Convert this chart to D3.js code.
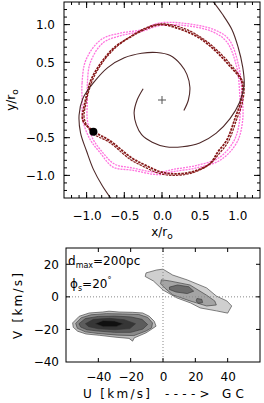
<!DOCTYPE html>
<html>
<head>
<meta charset="utf-8">
<script src="https://cdn.jsdelivr.net/npm/d3@7"></script>
<style>
  body { margin: 0; background: #fff; }
  text { font-family: "DejaVu Sans", sans-serif; font-size: 12px; fill: #000; }
</style>
</head>
<body>
<div id="chart"></div>
<script>
// ---- data ----
// top panel, x/r0 and y/r0
var xyTicks = [-1.0, -0.5, 0.0, 0.5, 1.0];

// two spiral arms
var arm1 = [[-0.25,0.15],[-0.33,0.00],[-0.37,-0.17],[-0.34,-0.33],[-0.27,-0.46],[-0.13,-0.56],
  [0.05,-0.62],[0.27,-0.62],[0.50,-0.57],[0.72,-0.44],[0.90,-0.25],[1.03,-0.03],[1.09,0.20],
  [1.07,0.44],[1.01,0.70],[0.93,0.93],[0.80,1.14],[0.66,1.33]];
var arm2 = [[0.29,-0.14],[0.35,0.00],[0.37,0.17],[0.33,0.34],[0.25,0.47],[0.11,0.59],
  [-0.07,0.63],[-0.27,0.62],[-0.50,0.56],[-0.72,0.43],[-0.90,0.24],[-1.05,0.02],[-1.10,-0.20],
  [-1.08,-0.44],[-1.00,-0.68],[-0.91,-0.92],[-0.79,-1.14],[-0.66,-1.33]];

// orbits (closed loops)
var redA = [[-1.05,-0.27],[-1.03,-0.07],[-0.99,0.10],[-0.94,0.27],[-0.81,0.49],[-0.64,0.69],
  [-0.41,0.84],[-0.20,0.95],[-0.01,1.00],[0.27,0.93],[0.50,0.82],[0.70,0.66],[0.90,0.45],
  [1.06,0.24],[1.05,0.00],[0.97,-0.24],[0.86,-0.53],[0.74,-0.69],[0.64,-0.84],[0.41,-0.95],
  [0.17,-0.98],[-0.03,-0.95],[-0.23,-0.86],[-0.40,-0.77],[-0.69,-0.54],[-0.90,-0.42]];
var redB = [[-1.03,-0.25],[-1.01,-0.05],[-0.97,0.12],[-0.91,0.29],[-0.78,0.51],[-0.61,0.70],
  [-0.39,0.86],[-0.18,0.97],[0.02,1.01],[0.29,0.95],[0.52,0.83],[0.72,0.67],[0.92,0.46],
  [1.08,0.22],[1.07,-0.02],[0.99,-0.26],[0.88,-0.55],[0.76,-0.71],[0.62,-0.86],[0.39,-0.97],
  [0.15,-1.00],[-0.05,-0.97],[-0.25,-0.88],[-0.42,-0.79],[-0.70,-0.56],[-0.92,-0.44]];
var pinkA = [[-1.06,0.00],[-1.06,0.23],[-1.01,0.53],[-0.81,0.80],[-0.54,0.89],[-0.28,0.93],
  [-0.04,1.02],[0.27,1.02],[0.70,0.93],[0.89,0.80],[1.02,0.44],[1.06,0.09],[1.07,-0.27],
  [0.99,-0.57],[0.77,-0.80],[0.46,-0.90],[0.15,-0.95],[-0.04,-0.99],[-0.40,-0.93],
  [-0.65,-0.89],[-0.82,-0.70],[-0.95,-0.53],[-1.05,-0.27]];
var pinkB = [[-0.99,0.00],[-0.99,0.22],[-0.95,0.50],[-0.78,0.76],[-0.52,0.86],[-0.27,0.91],
  [-0.02,0.99],[0.28,0.99],[0.66,0.91],[0.86,0.77],[0.99,0.44],[1.03,0.09],[1.03,-0.27],
  [0.95,-0.55],[0.75,-0.77],[0.45,-0.87],[0.15,-0.92],[-0.05,-0.96],[-0.40,-0.90],
  [-0.63,-0.85],[-0.80,-0.68],[-0.92,-0.51],[-0.99,-0.27]];

var centre = [0, 0];
var star = [-0.91, -0.42];

// bottom panel, U and V in km/s
var uTicks = [-40, -20, 0, 20, 40];
var vTicks = [-40, -20, 0, 20];

// filled contour levels, outermost first
var leftLevels = [
  [[-55.9,-16],[-51.8,-11.9],[-45.6,-9.9],[-37.3,-9.3],[-33.4,-8.8],[-27.2,-9.3],[-18.8,-9.5],
   [-12.6,-9.9],[-8.5,-11.9],[-5.4,-15],[-4.3,-18],[-7.4,-20.1],[-10.5,-22.1],[-17.8,-25.2],
   [-18.8,-27.2],[-21,-25.5],[-29.1,-24.8],[-39.4,-23.6],[-47.6,-22.8],[-52.8,-21.1],[-55.5,-18.7]],
  [[-54,-16.3],[-50.5,-12.8],[-44.5,-11],[-35,-10.3],[-25,-10.5],[-15,-10.8],[-9.5,-12.6],[-6.5,-16],
   [-7,-19],[-10.5,-21],[-18,-23.8],[-28,-23.5],[-40,-22.5],[-48,-21.5],[-53,-19.3]],
  [[-52,-16.5],[-48,-13.3],[-40,-12],[-30,-11.8],[-20,-12.3],[-13,-13.8],[-9.5,-17],[-12.5,-19.8],
   [-20,-21.8],[-30,-21.8],[-40,-21],[-47,-20.2],[-51,-18.5]],
  [[-48,-16.5],[-43,-13.8],[-33,-13.2],[-24,-14],[-17,-16.5],[-20.5,-19.5],[-30,-20.2],[-40,-19.6],[-46,-18.3]],
  [[-42,-16.5],[-37,-14.5],[-30,-14.8],[-24.5,-16.5],[-29,-18.3],[-37,-18.3]]
];
var rightLevels = [
  [[-10.5,14.7],[-4,16.5],[0,17],[6,13.4],[15,10.4],[27,5.5],[33,0.5],[39.5,-2.5],[42.5,-5.6],
   [40,-10],[33,-8.6],[23,-6.8],[17,-3.7],[8.7,-0.7],[0,4.2],[-6,9.8],[-11,12.5]],
  [[-1,10.5],[4,9.8],[16.7,7.3],[27,1],[32,-2.5],[33,-5],[27,-5.6],[16.7,-2.5],[6,1.2],[1,5.5],[-1.5,8]],
  [[4,6],[9,7.3],[16,6.2],[19,3.5],[15,2],[8,3],[4,4.5]],
  [[21,-1],[24,-1.5],[24.5,-3.5],[22,-4],[20.5,-2.5]]
];
var leftFills = ["#bdbdbd", "#8a8a8a", "#5c5c5c", "#363636", "#101010"];
var rightFills = ["#cfcfcf", "#a4a4a4", "#6c6c6c", "#707070"];

// ---- chart ----
var svg = d3.select("#chart").append("svg")
    .attr("width", 264)
    .attr("height", 403);

// top panel scales
var x = d3.scaleLinear().domain([-1.3, 1.3]).range([64, 260]);
var y = d3.scaleLinear().domain([-1.3, 1.3]).range([198, 2]);

svg.append("clipPath").attr("id", "clipTop")
    .append("rect").attr("x", 64).attr("y", 2).attr("width", 196).attr("height", 196);

var topGroup = svg.append("g").attr("clip-path", "url(#clipTop)");
var line = d3.line().x(d => x(d[0])).y(d => y(d[1]));

// orbits
[pinkB, pinkA].forEach(function(o) {
    topGroup.append("path")
        .attr("d", line.curve(d3.curveCatmullRomClosed)(o))
        .attr("fill", "none")
        .attr("stroke", "#ff5ad8")
        .attr("stroke-width", 1.3)
        .attr("stroke-dasharray", "2,1")
        .attr("opacity", 0.85);
});
[redB, redA].forEach(function(o, i) {
    topGroup.append("path")
        .attr("d", line.curve(d3.curveCatmullRomClosed)(o))
        .attr("fill", "none")
        .attr("stroke", "#861818")
        .attr("stroke-width", i ? 1.8 : 1.2)
        .attr("stroke-dasharray", "2.5,1");
});

// spiral arms
[arm1, arm2].forEach(function(a) {
    topGroup.append("path")
        .attr("d", line.curve(d3.curveCatmullRom)(a))
        .attr("fill", "none")
        .attr("stroke", "#4e2828")
        .attr("stroke-width", 1.1);
});

// centre cross
topGroup.append("path")
    .attr("d", `M${x(centre[0]) - 4},${y(centre[1])}h8M${x(centre[0])},${y(centre[1]) - 4}v8`)
    .attr("stroke", "#555")
    .attr("stroke-width", 1);

topGroup.append("circle")
    .attr("cx", x(star[0]))
    .attr("cy", y(star[1]))
    .attr("r", 4)
    .attr("fill", "#000");

// frame + ticks
var minor = d3.range(-13, 14).map(d => d / 10);

function inwardAxes(g, sx, sy, majors, minors, bigLen, smallLen) {
    var x0 = sx.range()[0], x1 = sx.range()[1], y0 = sy.range()[0], y1 = sy.range()[1];
    var p = "";
    minors.forEach(function(t) {
        var px = sx(t), py = sy(t);
        if (px > x0 && px < x1) p += `M${px},${y0}v${-smallLen}M${px},${y1}v${smallLen}`;
        if (py < y0 && py > y1) p += `M${x0},${py}h${smallLen}M${x1},${py}h${-smallLen}`;
    });
    majors.forEach(function(t) {
        var px = sx(t), py = sy(t);
        if (px > x0 && px < x1) p += `M${px},${y0}v${-bigLen}M${px},${y1}v${bigLen}`;
        if (py < y0 && py > y1) p += `M${x0},${py}h${bigLen}M${x1},${py}h${-bigLen}`;
    });
    g.append("path").attr("d", p).attr("stroke", "#000").attr("stroke-width", 1).attr("fill", "none");
    g.append("rect")
        .attr("x", x0).attr("y", y1)
        .attr("width", x1 - x0).attr("height", y0 - y1)
        .attr("fill", "none").attr("stroke", "#000").attr("stroke-width", 1);
}

inwardAxes(svg, x, y, xyTicks, minor, 6, 3);

// tick labels via axes
var fmt1 = d3.format(".1f");
svg.append("g")
    .attr("transform", "translate(0,198)")
    .call(d3.axisBottom(x).tickValues(xyTicks).tickFormat(fmt1).tickSize(0).tickPadding(13))
    .call(g => g.select(".domain").remove())
    .selectAll("text").style("font-size", "12px").style("font-family", "DejaVu Sans");

svg.append("g")
    .attr("transform", "translate(64,0)")
    .call(d3.axisLeft(y).tickValues(xyTicks).tickFormat(fmt1).tickSize(0).tickPadding(9))
    .call(g => g.select(".domain").remove())
    .selectAll("text").style("font-size", "12px").style("font-family", "DejaVu Sans");

// axis titles top panel
var xt = svg.append("text").attr("x", 162).attr("y", 236).attr("text-anchor", "middle");
xt.append("tspan").text("x/r");
xt.append("tspan").attr("dy", 3).style("font-size", "9px").text("o");

var yt = svg.append("text")
    .attr("transform", "translate(15,100) rotate(-90)")
    .attr("text-anchor", "middle");
yt.append("tspan").text("y/r");
yt.append("tspan").attr("dy", 3).style("font-size", "9px").text("o");

// bottom panel scales
var u = d3.scaleLinear().domain([-60, 60]).range([66, 260]);
var v = d3.scaleLinear().domain([-40, 30]).range([362, 248]);

var area = d3.line().x(d => u(d[0])).y(d => v(d[1])).curve(d3.curveLinearClosed);
var bottomGroup = svg.append("g");

leftLevels.forEach(function(lv, i) {
    bottomGroup.append("path").attr("d", area(lv))
        .attr("fill", leftFills[i]).attr("stroke", "#333").attr("stroke-width", 0.6);
});
rightLevels.forEach(function(lv, i) {
    bottomGroup.append("path").attr("d", area(lv))
        .attr("fill", rightFills[i]).attr("stroke", "#333").attr("stroke-width", 0.6);
});

// zero lines
bottomGroup.append("line")
    .attr("x1", u(0)).attr("x2", u(0)).attr("y1", v(30)).attr("y2", v(-40))
    .attr("stroke", "#888").attr("stroke-dasharray", "1,2");
bottomGroup.append("line")
    .attr("x1", u(-60)).attr("x2", u(60)).attr("y1", v(0)).attr("y2", v(0))
    .attr("stroke", "#888").attr("stroke-dasharray", "1,2");

inwardAxes(svg, u, v, [-40, -20, 0, 20, 40], [], 4, 0);

svg.append("g")
    .attr("transform", "translate(0,362)")
    .call(d3.axisBottom(u).tickValues(uTicks).tickSize(0).tickPadding(10))
    .call(g => g.select(".domain").remove())
    .selectAll("text").style("font-size", "12px").style("font-family", "DejaVu Sans");

svg.append("g")
    .attr("transform", "translate(66,0)")
    .call(d3.axisLeft(v).tickValues(vTicks).tickSize(0).tickPadding(7))
    .call(g => g.select(".domain").remove())
    .selectAll("text").style("font-size", "12px").style("font-family", "DejaVu Sans");

// titles bottom panel
svg.append("text").attr("x", 83).attr("y", 398)
    .attr("textLength", 67).text("U  [km/s]");
svg.append("text").attr("x", 165).attr("y", 398)
    .attr("textLength", 79).text("---->  GC");

svg.append("text")
    .attr("transform", "translate(22,306) rotate(-90)")
    .attr("text-anchor", "middle")
    .attr("textLength", 66)
    .text("V  [km/s]");

// annotations
var d1 = svg.append("text").attr("x", 68).attr("y", 265);
d1.append("tspan").text("d");
d1.append("tspan").attr("dy", 3).style("font-size", "8px").text("max");
d1.append("tspan").attr("dy", -3).text("=200pc");

var d2 = svg.append("text").attr("x", 70).attr("y", 288);
d2.append("tspan").text("\u03d5");
d2.append("tspan").attr("dy", 3).style("font-size", "8px").text("s");
d2.append("tspan").attr("dy", -3).text("=20");
d2.append("tspan").attr("dy", -5).style("font-size", "8px").text("\u00b0");
</script>
</body>
</html>
